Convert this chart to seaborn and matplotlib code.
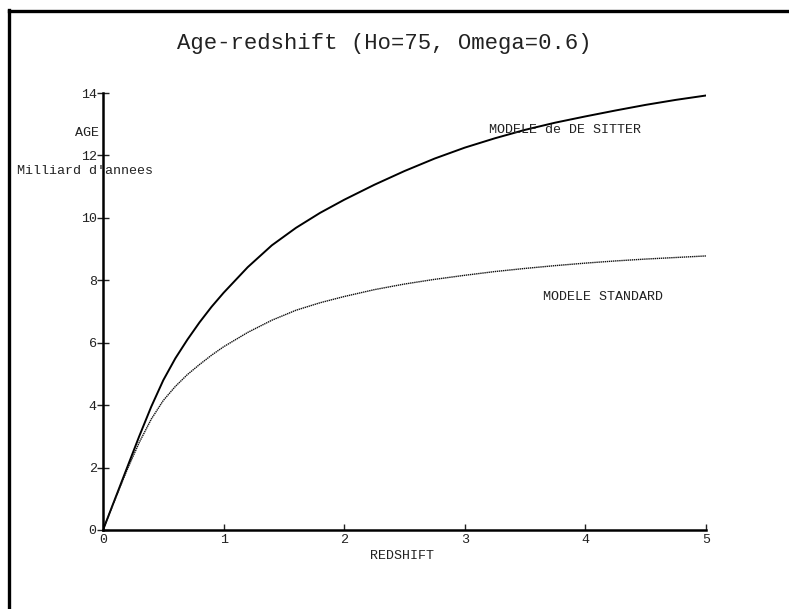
import matplotlib
matplotlib.use("Agg")
import matplotlib.pyplot as plt
import seaborn as sns
import numpy as np
from matplotlib.lines import Line2D

# redshift grid, values
redshift = [0, 0.1, 0.2, 0.3, 0.4, 0.5, 0.6, 0.7, 0.8, 0.9, 1.0, 1.2, 1.4, 1.6, 1.8,
            2.0, 2.25, 2.5, 2.75, 3.0, 3.25, 3.5, 3.75, 4.0, 4.25, 4.5, 4.75, 5.0]
# age (milliard d'annees), modele de De Sitter (solid)
age_sitter = [0, 1.0, 2.0, 3.0, 3.95, 4.8, 5.5, 6.1, 6.65, 7.15, 7.6, 8.42, 9.12, 9.68, 10.16,
              10.58, 11.06, 11.5, 11.9, 12.25, 12.55, 12.82, 13.05, 13.25, 13.44, 13.62, 13.78, 13.92]
# age, modele standard (dotted)
age_standard = [0, 0.98, 1.93, 2.8, 3.55, 4.15, 4.6, 4.98, 5.3, 5.6, 5.87, 6.33, 6.72, 7.04, 7.28,
                7.48, 7.7, 7.88, 8.03, 8.16, 8.28, 8.38, 8.47, 8.55, 8.62, 8.68, 8.73, 8.78]

xticks = [0, 1, 2, 3, 4, 5]
yticks = [0, 2, 4, 6, 8, 10, 12, 14]

sns.set_style("white")
plt.rcParams['font.family'] = ['Liberation Mono', 'DejaVu Sans Mono']

fig = plt.figure(figsize=(7.89, 6.09), dpi=100)
ax = fig.add_axes([103 / 789, (609 - 530) / 609, 603 / 789, 437 / 609])

sns.lineplot(x=redshift, y=age_sitter, ax=ax, color="black", linewidth=1.4)
sns.lineplot(x=redshift, y=age_standard, ax=ax, color="#111111", linewidth=1.0,
             linestyle=(0, (1, 0.5)))

ax.set_xlim(0, 5)
ax.set_ylim(0, 14)
ax.set_xticks(xticks)
ax.set_yticks(yticks)
ax.set_xticklabels([str(t) for t in xticks])
ax.set_yticklabels([str(t) for t in yticks])
ax.tick_params(axis="x", direction="in", length=4, width=1, pad=3, labelsize=9.6,
               colors="#222222")
ax.tick_params(axis="y", direction="inout", length=9, width=1, pad=0, labelsize=9.6,
               colors="#222222")
ax.tick_params(axis="both", bottom=True, left=True)

for side in ["top", "right"]:
    ax.spines[side].set_visible(False)
for side in ["left", "bottom"]:
    ax.spines[side].set_color("black")
    ax.spines[side].set_linewidth(1.8)

ax.set_xlabel("")
ax.set_ylabel("")

ax.text(3.2, 12.82, "MODELE de DE SITTER", fontsize=9.6, color="#222222", va="center")
ax.text(3.65, 7.47, "MODELE STANDARD", fontsize=9.6, color="#222222", va="center")

fig.text(402 / 789, 1 - 556 / 609, "REDSHIFT", fontsize=9.6, color="#222222",
         ha="center", va="center")
fig.text(99 / 789, 1 - 133 / 609, "AGE", fontsize=9.6, color="#222222",
         ha="right", va="center")
fig.text(17 / 789, 1 - 171 / 609, "Milliard d'annees", fontsize=9.6, color="#222222",
         ha="left", va="center")

fig.text(384 / 789, 1 - 44 / 609, "Age-redshift (Ho=75, Omega=0.6)", fontsize=16,
         color="#222222", ha="center", va="center")

# page frame (thick left and top edges)
fig.add_artist(Line2D([8.5 / 789, 8.5 / 789], [0, 1 - 10 / 609], color="black",
                      linewidth=2.4, transform=fig.transFigure, solid_capstyle="projecting"))
fig.add_artist(Line2D([8.5 / 789, 1], [1 - 10.5 / 609, 1 - 10.5 / 609], color="black",
                      linewidth=2.4, transform=fig.transFigure, solid_capstyle="projecting"))

fig.savefig("out.png", dpi=100, facecolor="white")
